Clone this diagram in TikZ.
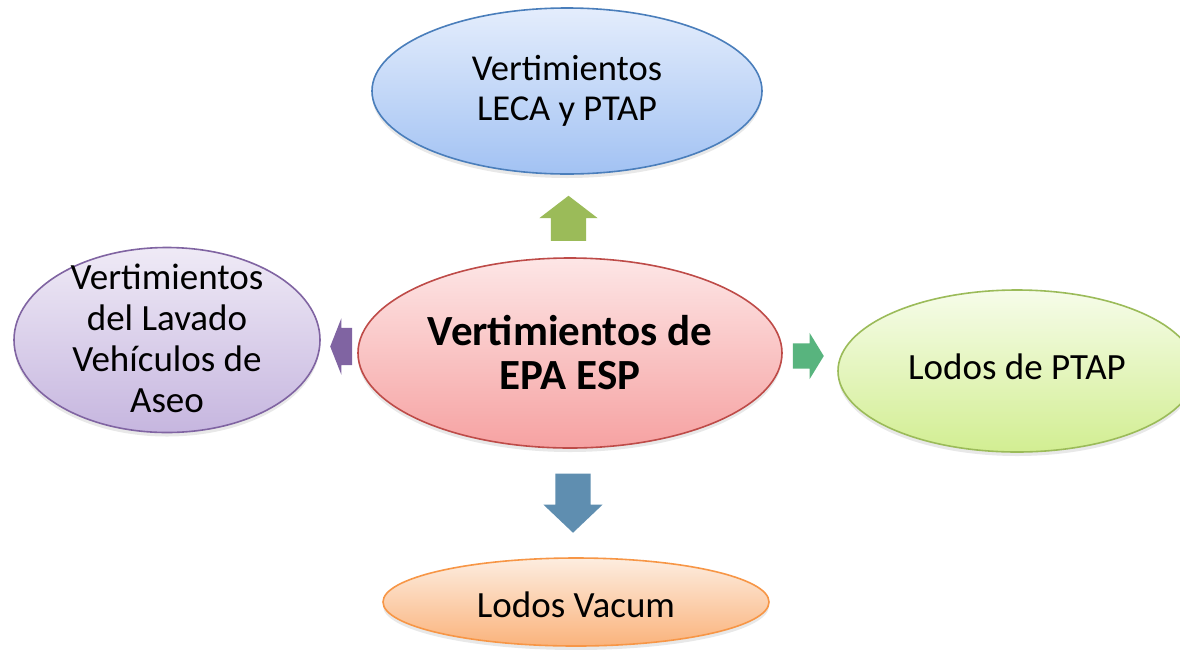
\documentclass[tikz,border=0pt]{standalone}
\usepackage{fontspec}
\setmainfont{Carlito}
\usetikzlibrary{shapes.geometric,shapes.arrows,calc,shadows}

\definecolor{lecaline}{HTML}{4A7EBB}
\definecolor{lecatop}{HTML}{E4EDFC}
\definecolor{lecabot}{HTML}{A2C2F3}
\definecolor{epaline}{HTML}{BE4B48}
\definecolor{epatop}{HTML}{FDE6E6}
\definecolor{epabot}{HTML}{F6A2A2}
\definecolor{lavline}{HTML}{8064A2}
\definecolor{lavtop}{HTML}{EFEAF6}
\definecolor{lavbot}{HTML}{C6B6DF}
\definecolor{ptapline}{HTML}{9BBB59}
\definecolor{ptaptop}{HTML}{F6FCE9}
\definecolor{ptapbot}{HTML}{D2EE92}
\definecolor{vacline}{HTML}{F79646}
\definecolor{vactop}{HTML}{FDEDE0}
\definecolor{vacbot}{HTML}{FAB37C}
\definecolor{arrup}{HTML}{9BBB59}
\definecolor{arrleft}{HTML}{8064A2}
\definecolor{arrright}{HTML}{58B47E}
\definecolor{arrdown}{HTML}{5F8EB0}

\begin{document}
\begin{tikzpicture}[x=1pt,y=-1pt]
\tikzset{bubble/.style={ellipse,draw=#1,line width=1.6pt,inner sep=0pt,
  drop shadow={opacity=0.18,shadow xshift=0pt,shadow yshift=-4pt}}}
\tikzset{txt/.style={align=center,font=\fontsize{36.5}{40.5}\selectfont}}
\tikzset{blk/.style={single arrow,draw=none,fill=#1,inner xsep=0pt,anchor=tip}}
\useasboundingbox (0,0) rectangle (1180,649);
\fill[white] (0,0) rectangle (1180,649);
\clip (0,0) rectangle (1180,649);
% the five bubbles
\node[bubble=lecaline,top color=lecatop,bottom color=lecabot,
  minimum width=390pt,minimum height=166pt] (leca) at (567,91) {};
\node[bubble=epaline,top color=epatop,bottom color=epabot,
  minimum width=424pt,minimum height=190pt] (epa) at (570,353) {};
\node[bubble=lavline,top color=lavtop,bottom color=lavbot,
  minimum width=306pt,minimum height=185pt] (lav) at (167,340) {};
\node[bubble=ptapline,top color=ptaptop,bottom color=ptapbot,
  minimum width=358pt,minimum height=162pt] (ptap) at (1017,371) {};
\node[bubble=vacline,top color=vactop,bottom color=vacbot,
  minimum width=386pt,minimum height=88pt] (vac) at (576,602) {};
% texts
\node[txt] at (leca) {Vertimientos\\LECA y PTAP};
\node[txt,font=\fontsize{43}{44}\selectfont\bfseries] at (epa) {Vertimientos de\\EPA ESP};
\node[txt,font=\fontsize{37}{41}\selectfont] at (167,338) {Vertimientos\\del Lavado\\Vehículos de\\Aseo};
\node[txt,font=\fontsize{37}{44}\selectfont] at (1017,367) {Lodos de PTAP};
\node[txt,font=\fontsize{37}{44}\selectfont] at (576,605) {Lodos Vacum};
% block arrows
\node[blk=arrup,rotate=90,minimum height=45pt,inner ysep=17.5pt,
  single arrow head extend=11.5pt,single arrow tip angle=105]
  (toleca) at ($(epa.north)!0.5!(leca.south)+(0,-20.5)$) {};
\node[blk=arrleft,rotate=180,minimum height=22pt,inner ysep=18.5pt,
  single arrow head extend=9.5pt,single arrow tip angle=137]
  (tolav) at ($(epa.west)!0.5!(lav.east)+(-9,0)$) {};
\node[blk=arrright,minimum height=31pt,inner ysep=12.5pt,
  single arrow head extend=10.5pt,single arrow tip angle=117]
  (toptap) at ($(epa.east)!0.5!(ptap.west)+(14,-6)$) {};
\node[blk=arrdown,rotate=-90,minimum height=59pt,inner ysep=17.5pt,
  single arrow head extend=12pt,single arrow tip angle=93]
  (tovac) at ($(epa.south)!0.5!(vac.north)+(0,30)$) {};
\end{tikzpicture}
\end{document}
